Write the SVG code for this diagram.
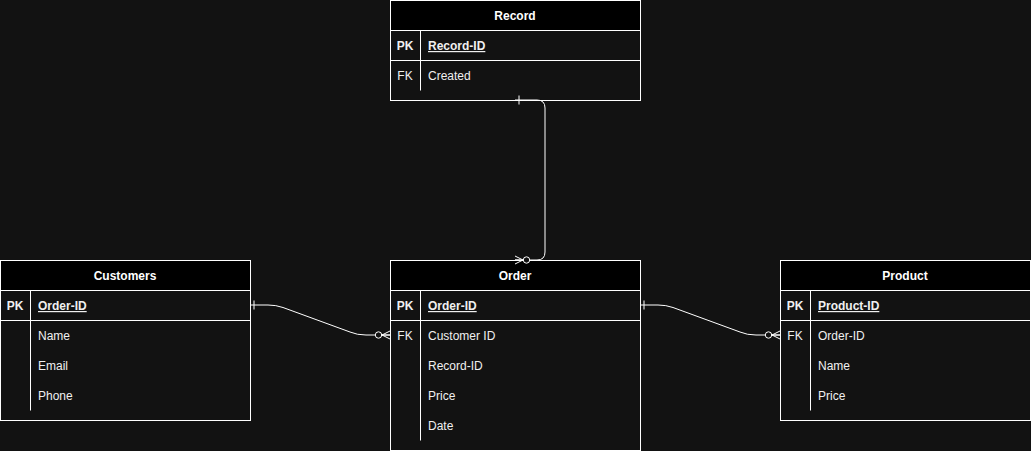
<svg xmlns="http://www.w3.org/2000/svg" width="1031" height="451" viewBox="0 0 1031 451">
<style>
.box{fill:#121212;stroke:#ffffff;stroke-width:1}
.hdr{fill:#000000;stroke:#ffffff;stroke-width:1}
.ln{stroke:#ffffff;stroke-width:1;fill:none}
.t{font-family:"Liberation Sans",Arial,sans-serif;font-size:12px;fill:#f0f0f0}
.title{font-weight:bold;text-anchor:middle;fill:#ffffff}
.key{font-weight:bold;text-anchor:middle}
.pk{font-weight:bold;text-decoration:underline}
.edge{stroke:#ffffff;stroke-width:1;fill:none}
</style>
<defs>
<marker id="one" markerUnits="userSpaceOnUse" orient="auto" refX="0" refY="0" markerWidth="20" markerHeight="20" viewBox="-10 -10 20 20" overflow="visible">
<path d="M4,-4.5 V4.5" stroke="#ffffff" stroke-width="1" fill="none"/>
</marker>
<marker id="zeroMany" markerUnits="userSpaceOnUse" orient="auto" refX="0" refY="0" markerWidth="30" markerHeight="20" viewBox="-20 -10 30 20" overflow="visible">
<path d="M-8,0 L0,-4 M-8,0 L0,4 M-8,0 H0" stroke="#ffffff" stroke-width="1" fill="none"/>
<circle cx="-11.5" cy="0" r="3.2" fill="#121212" stroke="#ffffff" stroke-width="1"/>
</marker>
</defs>
<rect x="0" y="0" width="1031" height="451" fill="#121212"/>

<g id="record">
<rect class="box" x="390.5" y="0.5" width="250" height="100"/>
<rect class="hdr" x="390.5" y="0.5" width="250" height="30"/>
<line class="ln" x1="390.5" y1="60.5" x2="640.5" y2="60.5"/>
<line class="ln" x1="420.5" y1="30.5" x2="420.5" y2="90.5"/>
<text class="t title" x="515" y="20">Record</text>
<text class="t key" x="405" y="50">PK</text>
<text class="t pk" x="428" y="50">Record-ID</text>
<text class="t key" x="405" y="80" style="font-weight:normal">FK</text>
<text class="t" x="428" y="80">Created</text>
</g>

<g id="customers">
<rect class="box" x="0.5" y="260.5" width="250" height="160"/>
<rect class="hdr" x="0.5" y="260.5" width="250" height="30"/>
<line class="ln" x1="0.5" y1="320.5" x2="250.5" y2="320.5"/>
<line class="ln" x1="30.5" y1="290.5" x2="30.5" y2="410.5"/>
<text class="t title" x="125" y="280">Customers</text>
<text class="t key" x="15" y="310">PK</text>
<text class="t pk" x="38" y="310">Order-ID</text>
<text class="t" x="38" y="340">Name</text>
<text class="t" x="38" y="370">Email</text>
<text class="t" x="38" y="400">Phone</text>
</g>

<g id="order">
<rect class="box" x="390.5" y="260.5" width="250" height="190"/>
<rect class="hdr" x="390.5" y="260.5" width="250" height="30"/>
<line class="ln" x1="390.5" y1="320.5" x2="640.5" y2="320.5"/>
<line class="ln" x1="420.5" y1="290.5" x2="420.5" y2="440.5"/>
<text class="t title" x="515" y="280">Order</text>
<text class="t key" x="405" y="310">PK</text>
<text class="t pk" x="428" y="310">Order-ID</text>
<text class="t key" x="405" y="340" style="font-weight:normal">FK</text>
<text class="t" x="428" y="340">Customer ID</text>
<text class="t" x="428" y="370">Record-ID</text>
<text class="t" x="428" y="400">Price</text>
<text class="t" x="428" y="430">Date</text>
</g>

<g id="product">
<rect class="box" x="780.5" y="260.5" width="250" height="160"/>
<rect class="hdr" x="780.5" y="260.5" width="250" height="30"/>
<line class="ln" x1="780.5" y1="320.5" x2="1030.5" y2="320.5"/>
<line class="ln" x1="810.5" y1="290.5" x2="810.5" y2="410.5"/>
<text class="t title" x="905" y="280">Product</text>
<text class="t key" x="795" y="310">PK</text>
<text class="t pk" x="818" y="310">Product-ID</text>
<text class="t key" x="795" y="340" style="font-weight:normal">FK</text>
<text class="t" x="818" y="340">Order-ID</text>
<text class="t" x="818" y="370">Name</text>
<text class="t" x="818" y="400">Price</text>
</g>

<g id="connectors">
<path class="edge" d="M250,305 H268 Q276,305 283,307.5 L350,332 Q357,335 366,335 H390" marker-start="url(#one)" marker-end="url(#zeroMany)"/>
<path class="edge" d="M640,305 H658 Q666,305 673,307.5 L740,332 Q747,335 756,335 H780" marker-start="url(#one)" marker-end="url(#zeroMany)"/>
<path class="edge" d="M515,100 H537 Q545,100 545,108 V252 Q545,260 537,260 H515" marker-start="url(#one)" marker-end="url(#zeroMany)"/>
</g>
</svg>
